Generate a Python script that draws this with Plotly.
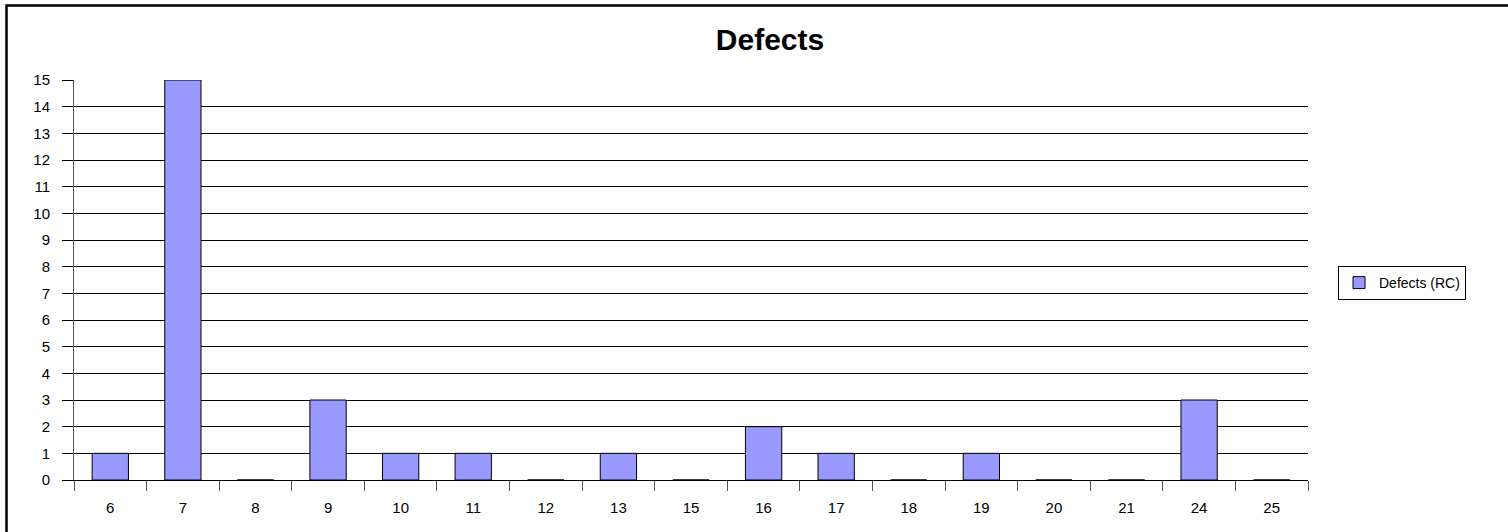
import plotly.graph_objects as go

categories = ["6", "7", "8", "9", "10", "11", "12", "13", "15", "16", "17", "18", "19", "20", "21", "24", "25"]
defects_rc = [1, 15, 0, 3, 1, 1, 0, 1, 0, 2, 1, 0, 1, 0, 0, 3, 0]
y_ticks = list(range(0, 16))

W, H = 1508, 532
L, R, T, B = 74, 1308, 80, 480
pw, ph = R - L, B - T

fig = go.Figure()
fig.add_trace(go.Bar(
    x=categories, y=defects_rc, name="Defects (RC)",
    marker=dict(color="#9999FF", line=dict(color="black", width=1)),
    showlegend=True,
))

font = "Liberation Sans, Arial, sans-serif"
fig.update_layout(
    width=W, height=H,
    margin=dict(l=L, r=W - R, t=T, b=H - B, pad=0),
    paper_bgcolor="white", plot_bgcolor="white",
    font=dict(family=font, size=15, color="black"),
    bargap=0.5,
    title=dict(text="<b>Defects</b>", x=770 / W, xanchor="center", xref="container",
               y=1 - 50 / H, yanchor="bottom", yref="container",
               font=dict(family=font, size=30, color="black")),
    xaxis=dict(type="category", showgrid=False, showline=True, linecolor="black", linewidth=1,
               ticks="outside", tickson="boundaries", ticklen=10, tickcolor="#555", tickwidth=1,
               tickfont=dict(size=15), ticklabelstandoff=14),
    yaxis=dict(range=[0, 15], tickvals=y_ticks, showgrid=True, gridcolor="black", gridwidth=1,
               zeroline=False, showline=True, linecolor="#555", linewidth=1,
               ticks="outside", ticklen=11, tickcolor="black", tickwidth=1,
               tickfont=dict(size=15), ticklabelstandoff=9),
    legend=dict(x=(1338 - L) / pw, xanchor="left", y=(B - 283) / ph, yanchor="middle",
                bordercolor="black", borderwidth=1, bgcolor="white",
                font=dict(family=font, size=14), itemwidth=30),
    shapes=[dict(type="rect", xref="paper", yref="paper",
                 x0=(6.5 - L) / pw, x1=(W + 20 - L) / pw,
                 y0=(B - (H + 20)) / ph, y1=(B - 5.5) / ph,
                 line=dict(color="black", width=2.5), fillcolor="rgba(0,0,0,0)", layer="below")],
)

fig.write_html("out.html", config={"displayModeBar": False},
               post_script="document.body.style.margin='0';")
